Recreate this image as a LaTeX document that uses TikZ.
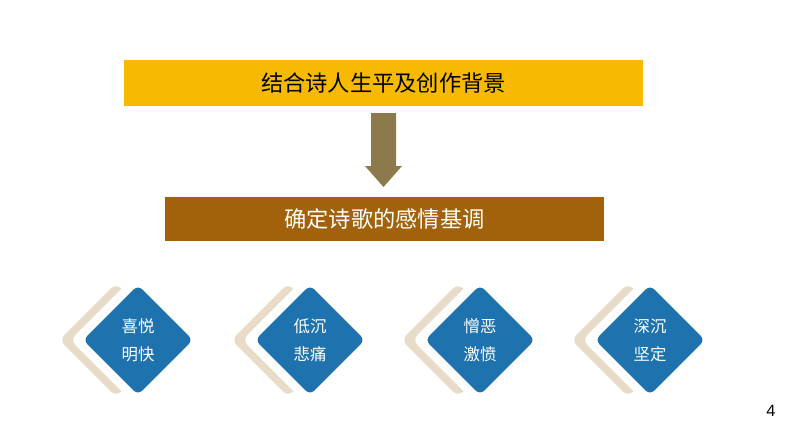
\documentclass[tikz,border=0pt]{standalone}
\usepackage{fontspec}
\newfontfamily\cjk{Noto Sans CJK SC}
\setmainfont{Liberation Sans}
\usetikzlibrary{shapes.geometric,positioning}
\definecolor{gold}{HTML}{F7BA00}
\definecolor{rust}{HTML}{A2620C}
\definecolor{olive}{HTML}{8C7A4C}
\definecolor{steel}{HTML}{1E73AE}
\definecolor{sand}{HTML}{E8DCC8}
\begin{document}
\begin{tikzpicture}[x=0.03cm,y=-0.03cm,
    topbox/.style={fill=gold, minimum width=15.57cm, minimum height=1.38cm, font=\cjk\fontsize{19}{22}\selectfont},
    midbox/.style={fill=rust, text=white, minimum width=13.17cm, minimum height=1.32cm, font=\cjk\fontsize{19}{22}\selectfont},
    gem/.style={diamond, rounded corners=6pt, minimum width=3.4cm, minimum height=3.4cm, inner sep=0pt},
    bluegem/.style={gem, fill=steel, draw=white, line width=1.5pt, text=white, align=center, font=\cjk\fontsize{14}{24}\selectfont},
    lbl/.style={font=\fontsize{14}{16}\selectfont}
]
\useasboundingbox (0,0) rectangle (794,447);

% --- heading and arrow ---
\node[topbox] (bg) at (383.5,83) {结合诗人生平及创作背景};
\node[midbox] (tone) at (384.5,219) {确定诗歌的感情基调};
\fill[olive] (371,113) -- (396,113) -- (396,166) -- (402,166) -- (383.5,187)
  -- (365,166) -- (371,166) -- cycle;

% --- four moods ---
\foreach \cx/\a/\b [count=\i] in {138/喜悦/明快, 310/低沉/悲痛, 480/憎恶/激愤, 650/深沉/坚定}{
  \node[gem, fill=sand] (back\i) at (\cx-22,340) {};
  \node[gem, fill=white] (gap\i) at (\cx-11,340) {};
  \node[bluegem] (mood\i) at (\cx,340) {\a\\\b};
}

\node[lbl] (page) at (771,411) {4};
\end{tikzpicture}
\end{document}
